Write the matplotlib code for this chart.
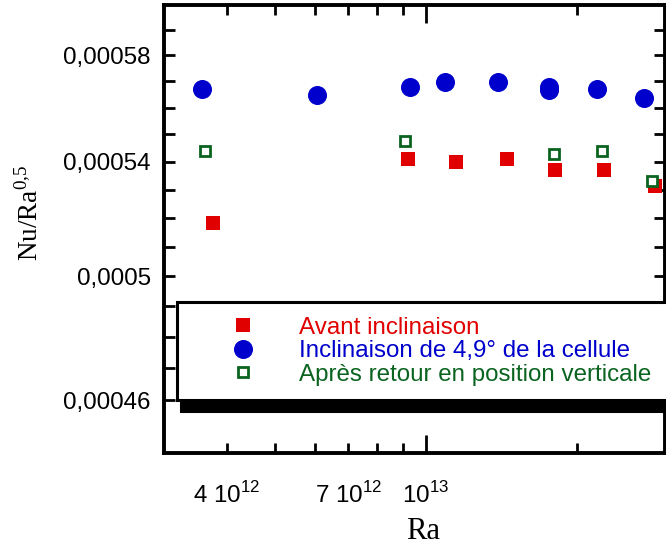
import matplotlib
matplotlib.use("Agg")
import matplotlib.pyplot as plt
from matplotlib.lines import Line2D
from matplotlib.ticker import NullLocator

plt.rcParams['font.family'] = ['Liberation Sans', 'DejaVu Sans']
plt.rcParams['mathtext.fontset'] = 'custom'
plt.rcParams['mathtext.rm'] = 'Liberation Serif'
plt.rcParams['mathtext.sf'] = 'Liberation Sans'

# data
ra_avant = [3.76e12, 9.21e12, 1.148e13, 1.45e13, 1.81e13, 2.27e13, 2.87e13]
nu_avant = [0.0005183, 0.000541, 0.0005399, 0.000541, 0.000537, 0.000537, 0.0005313]

ra_incl = [3.58e12, 6.07e12, 9.3e12, 1.09e13, 1.39e13, 1.76e13, 1.76e13, 2.19e13, 2.73e13]
nu_incl = [0.000567, 0.0005647, 0.0005678, 0.0005698, 0.0005698, 0.0005677, 0.0005665, 0.000567, 0.0005637]

ra_retour = [3.62e12, 9.07e12, 1.80e13, 2.25e13, 2.83e13]
nu_retour = [0.0005439, 0.0005477, 0.0005429, 0.0005439, 0.0005332]

labels = ["Avant inclinaison", "Inclinaison de 4,9° de la cellule", "Après retour en position verticale"]
colors = ["#e00000", "#0000cc", "#0a6420"]

yticks = [0.00046, 0.00047, 0.00048, 0.00049, 0.00050, 0.00051, 0.00052,
          0.00053, 0.00054, 0.00055, 0.00056, 0.00057, 0.00058, 0.00059]
ylabels_map = {0.00046: "0,00046", 0.00050: "0,0005", 0.00054: "0,00054", 0.00058: "0,00058"}
xmajor = [1e13]
xmajor_labels = [r"10$^{\mathsf{13}}$"]
xminor = [4e12, 5e12, 6e12, 7e12, 8e12, 9e12, 2e13]
xminor_labels = [r"4 10$^{\mathsf{12}}$", "", "", r"7 10$^{\mathsf{12}}$", "", "", ""]

fig = plt.figure(figsize=(6.66, 5.47), dpi=100)
ax = fig.add_axes([164/666, 1 - 453/547, 501/666, 448/547])

ax.plot(ra_incl, nu_incl, "o", color=colors[1], ms=13.7, mew=0)
ax.plot(ra_avant, nu_avant, "s", color=colors[0], ms=10, mew=0)
ax.plot(ra_retour, nu_retour, "s", mfc="white", mec=colors[2], ms=7.4, mew=2)

ax.set_xscale("log")
ax.set_yscale("log")
ax.set_xlim(3e12, 3e13)
ax.set_ylim(0.000444, 0.0006)

ax.set_yticks(yticks, [ylabels_map.get(v, "") for v in yticks])
ax.yaxis.set_minor_locator(NullLocator())
ax.set_xticks(xmajor, xmajor_labels)
ax.set_xticks(xminor, xminor_labels, minor=True)

for s in ax.spines.values():
    s.set_linewidth(2.8)
ax.tick_params(which="both", direction="in", top=True, right=True, width=2,
               labelsize=17.4, color="black")
ax.tick_params(axis="y", which="both", length=8, pad=9.5)
ax.tick_params(axis="x", which="major", length=13, pad=20.7)
ax.tick_params(axis="x", which="minor", length=7.5, pad=20.7)

ax.set_xlabel("Ra", family="Liberation Serif", fontsize=22)
ax.xaxis.set_label_coords(0.517, -0.143)
ax.set_ylabel(r"Nu/Ra$^{\mathrm{0{,}5}}$", family="Liberation Serif", fontsize=19.5)
ax.yaxis.set_label_coords(-0.24, 0.535)

handles = [
    Line2D([], [], ls="none", marker="s", color=colors[0], ms=10, mew=0),
    Line2D([], [], ls="none", marker="o", color=colors[1], ms=13.7, mew=0),
    Line2D([], [], ls="none", marker="s", mfc="white", mec=colors[2], ms=7.4, mew=2),
]
leg = fig.legend(handles, labels, loc="upper left",
                 bbox_to_anchor=(177/666, 1 - 302/547, 0.8, 0), mode="expand",
                 borderaxespad=0, fontsize=17.4, labelcolor=colors,
                 handlelength=4.23, handletextpad=0.2, borderpad=0.61,
                 labelspacing=0.06, fancybox=False, framealpha=1,
                 edgecolor="black",
                 shadow={"ox": 3, "oy": -8, "color": "black", "alpha": 1})
leg.get_frame().set_linewidth(2.2)

fig.savefig("out.png", dpi=100)
